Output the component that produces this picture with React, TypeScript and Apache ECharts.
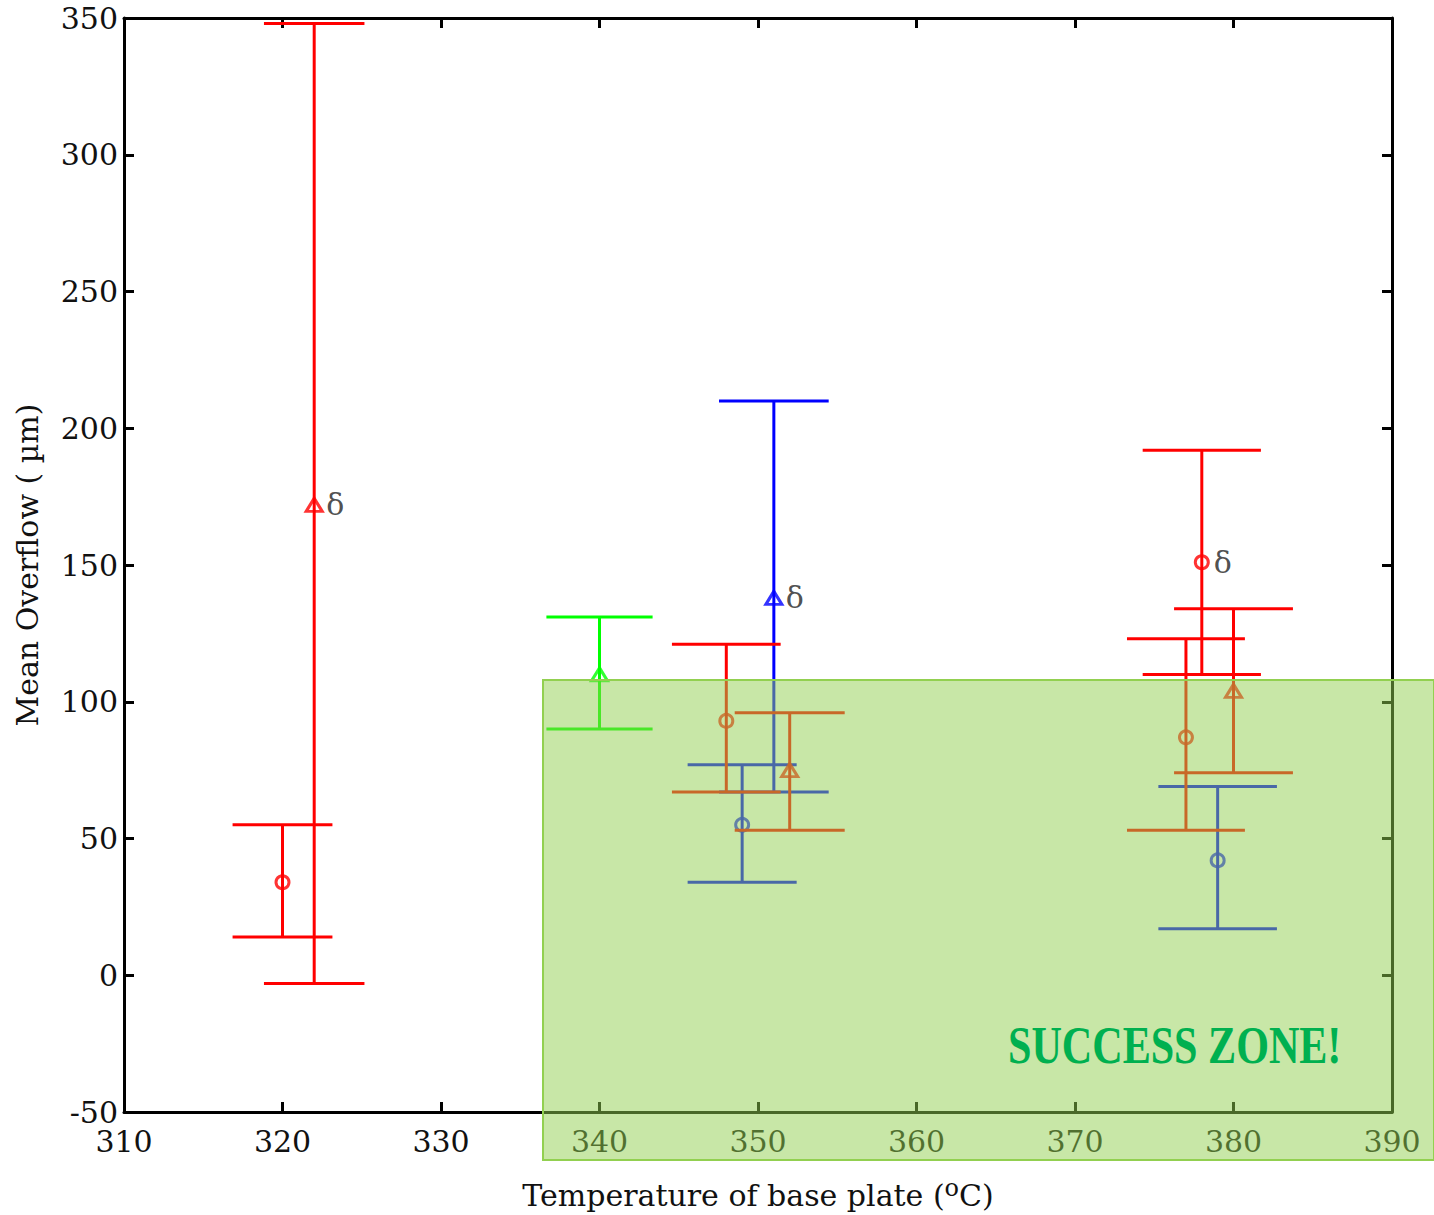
import React, { useEffect, useRef } from 'react';
import * as echarts from 'echarts';

// [temperature (°C), mean overflow, lower, upper]
const redCircle = [
  [320, 34, 14, 55],
  [348, 93, 67, 121],
  [377, 87, 53, 123],
  [378, 151, 110, 192],
];
const redTriangle = [
  [322, 172, -3, 348],
  [352, 75, 53, 96],
  [380, 104, 74, 134],
];
const blueCircle = [
  [349, 55, 34, 77],
  [379, 42, 17, 69],
];
const blueTriangle = [[351, 138, 67, 210]];
const greenTriangle = [[340, 110, 90, 131]];
// points annotated with δ
const deltaMarked = [
  [322, 172],
  [351, 138],
  [378, 151],
];

const xMin = 310, xMax = 390, xStep = 10;
const yMin = -50, yMax = 350, yStep = 50;

const FONT = 'DejaVu Serif';

function capHalf(x: number) {
  return 3.15 + (x - 320) * 0.01;
}

function errSeries(data: number[][], color: string, z: number) {
  return {
    type: 'custom',
    z,
    data,
    encode: { x: 0, y: [2, 3] },
    renderItem: (params: any, api: any) => {
      const x = api.value(0), lo = api.value(2), hi = api.value(3);
      const c = capHalf(x);
      const pTop = api.coord([x, hi]);
      const pBot = api.coord([x, lo]);
      const tl = api.coord([x - c, hi]);
      const tr = api.coord([x + c, hi]);
      const bl = api.coord([x - c, lo]);
      const br = api.coord([x + c, lo]);
      const style = { stroke: color, lineWidth: 3 };
      return {
        type: 'group',
        children: [
          { type: 'line', shape: { x1: pTop[0], y1: pTop[1], x2: pBot[0], y2: pBot[1] }, style },
          { type: 'line', shape: { x1: tl[0], y1: tl[1], x2: tr[0], y2: tr[1] }, style },
          { type: 'line', shape: { x1: bl[0], y1: bl[1], x2: br[0], y2: br[1] }, style },
        ],
      };
    },
  };
}

function markerSeries(data: number[][], color: string, symbol: string, size: number | number[], z: number) {
  return {
    type: 'scatter',
    z,
    data: data.map((d) => [d[0], d[1]]),
    symbol,
    symbolSize: size,
    itemStyle: { color: 'transparent', borderColor: color, borderWidth: 3 },
    emphasis: { disabled: true },
  };
}

export default function App() {
  const ref = useRef<HTMLDivElement>(null);
  useEffect(() => {
    const chart = echarts.init(ref.current!, null, { renderer: 'svg' });
    const axisCommon = {
      type: 'value',
      axisLine: { show: true, onZero: false, lineStyle: { color: '#000', width: 3 } },
      axisTick: { show: true, inside: true, length: 10, lineStyle: { color: '#000', width: 3 } },
      splitLine: { show: false },
    };
    chart.setOption({
      animation: false,
      backgroundColor: '#fff',
      grid: { left: 124, right: 42, top: 18, bottom: 101, containLabel: false },
      xAxis: [
        {
          ...axisCommon,
          min: xMin,
          max: xMax,
          interval: xStep,
          position: 'bottom',
          axisLabel: { color: '#111', fontFamily: FONT, fontSize: 30, margin: 14 },
          name: '{a|Temperature of base plate (}{s|o}{a|C)}',
          nameLocation: 'middle',
          nameGap: 64,
          nameTextStyle: {
            rich: {
              a: { fontFamily: FONT, fontSize: 30, color: '#111' },
              s: { fontFamily: FONT, fontSize: 24, color: '#111', verticalAlign: 'top', padding: [0, 0, 14, 0] },
            },
          },
        },
        {
          ...axisCommon,
          min: xMin,
          max: xMax,
          interval: xStep,
          position: 'top',
          axisLabel: { show: false },
        },
      ],
      yAxis: [
        {
          ...axisCommon,
          min: yMin,
          max: yMax,
          interval: yStep,
          position: 'left',
          axisLabel: { color: '#111', fontFamily: FONT, fontSize: 30, margin: 6 },
          name: 'Mean Overflow ( µm)',
          nameLocation: 'middle',
          nameGap: 82,
          nameTextStyle: { fontFamily: FONT, fontSize: 30, color: '#111' },
        },
        {
          ...axisCommon,
          min: yMin,
          max: yMax,
          interval: yStep,
          position: 'right',
          axisLabel: { show: false },
        },
      ],
      series: [
        errSeries(greenTriangle, '#00ff00', 3),
        markerSeries(greenTriangle, '#00ff00', 'triangle', [16, 13], 4),
        errSeries(blueTriangle, '#0000ff', 3),
        markerSeries(blueTriangle, '#0000ff', 'triangle', [16, 13], 4),
        errSeries(blueCircle, '#0000ff', 3),
        markerSeries(blueCircle, '#0000ff', 'circle', 13, 4),
        errSeries(redCircle, '#ff0000', 5),
        markerSeries(redCircle, '#ff0000', 'circle', 13, 6),
        errSeries(redTriangle, '#ff0000', 5),
        markerSeries(redTriangle, '#ff0000', 'triangle', [16, 13], 6),
        {
          type: 'scatter',
          z: 7,
          data: deltaMarked,
          symbolSize: 0,
          silent: true,
          label: {
            show: true,
            formatter: 'δ',
            position: 'right',
            distance: 12,
            fontFamily: FONT,
            fontSize: 30,
            color: '#222',
          },
        },
      ],
      graphic: [
        {
          type: 'rect',
          z: 100,
          shape: { x: 543, y: 680, width: 891, height: 480 },
          style: { fill: 'rgba(146,208,80,0.5)', stroke: '#92D050', lineWidth: 2 },
        },
        {
          type: 'text',
          z: 101,
          x: 1008,
          y: 1019,
          scaleX: 0.81,
          style: {
            text: 'SUCCESS ZONE!',
            fill: '#00B050',
            fontFamily: 'Liberation Serif',
            fontWeight: 'bold',
            fontSize: 52,
            textVerticalAlign: 'top',
          },
        },
      ],
    });
    return () => chart.dispose();
  }, []);
  return <div ref={ref} style={{ position: 'fixed', left: 0, top: 0, width: 1434, height: 1215 }} />;
}
